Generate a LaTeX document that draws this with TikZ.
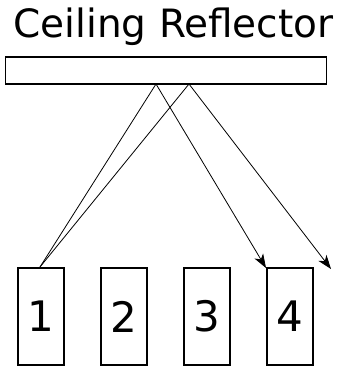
\documentclass[tikz,border=0pt]{standalone}
\usepackage{fontspec}
\setmainfont{DejaVu Sans}
\usetikzlibrary{arrows.meta}
\begin{document}
\begin{tikzpicture}[x=1pt,y=-1pt,
  boxstyle/.style={draw, line width=2pt, minimum width=46pt, minimum height=97pt, inner sep=0pt, font=\fontsize{42}{42}\selectfont},
  ray/.style={line width=0.8pt},
  arrowray/.style={ray, -{Stealth[length=14pt,width=10pt,inset=4pt]}}]
\useasboundingbox (0,0) rectangle (350,366);
\node[anchor=base, inner sep=0pt, font=\fontsize{39}{39}\selectfont] (title) at (173.5,38) {Ceiling Reflector};
\node[draw, line width=1.8pt, minimum width=321pt, minimum height=27pt, inner sep=0pt] (refl) at (166,70.5) {};
\node[boxstyle] (b1) at (40.5,316.5) {1};
\node[boxstyle] (b2) at (123.5,316.5) {2};
\node[boxstyle] (b3) at (206.5,316.5) {3};
\node[boxstyle] (b4) at (290,316.5) {4};
\coordinate (p1) at (156,84);
\coordinate (p2) at (189,84);
\coordinate (e1) at (266,268);
\coordinate (e2) at (331,269);
\coordinate (s) at (40,267);
\draw[ray] (s) -- (p1);
\draw[ray] (s) -- (p2);
\draw[arrowray] (p1) -- (e1);
\draw[arrowray] (p2) -- (e2);
\end{tikzpicture}
\end{document}
